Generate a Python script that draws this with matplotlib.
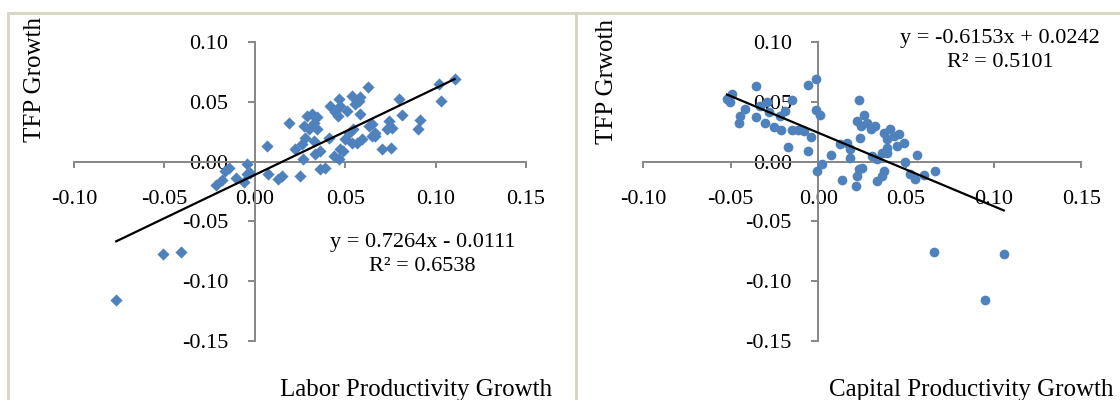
import matplotlib
matplotlib.use('Agg')
import matplotlib.pyplot as plt
from matplotlib.patches import Rectangle
import numpy as np

plt.rcParams['font.family'] = ['Liberation Serif', 'DejaVu Serif']

# ── Data ──────────────────────────────────────────────────────
# labor productivity growth vs TFP growth
labor_x = [-0.0766, -0.0509, -0.0410, -0.0213, -0.0183, -0.0163, -0.0143, -0.0104,
           -0.0058, -0.0045, -0.0041, -0.0025, 0.0068, 0.0074, 0.0128, 0.0152,
           0.0188, 0.0224, 0.0248, 0.0261, 0.0268, 0.0279, 0.0298, 0.0289,
           0.0316, 0.0270, 0.0325, 0.0344, 0.0325, 0.0335, 0.0362, 0.0362,
           0.0390, 0.0408, 0.0418, 0.0464, 0.0473, 0.0445, 0.0510, 0.0538,
           0.0556, 0.0519, 0.0500, 0.0473, 0.0464, 0.0546, 0.0538, 0.0436,
           0.0459, 0.0489, 0.1105, 0.1017, 0.1032, 0.0915, 0.0903, 0.0795,
           0.0814, 0.0626, 0.0740, 0.0759, 0.0731, 0.0704, 0.0755, 0.0666,
           0.0648, 0.0574, 0.0584, 0.0584, 0.0593, 0.0565, 0.0648, 0.0666,
           0.0630, 0.0345]
labor_y = [-0.1162, -0.0773, -0.0756, -0.0199, -0.0157, -0.0078, -0.0056, -0.0134,
           -0.0171, -0.0106, -0.0017, -0.0092, 0.0132, -0.0106, -0.0148, -0.0118,
           0.0328, 0.0103, -0.0120, 0.0145, 0.0020, 0.0202, 0.0271, 0.0383,
           0.0397, 0.0299, 0.0328, 0.0271, 0.0173, 0.0061, 0.0089, -0.0065,
           -0.0050, 0.0202, 0.0467, 0.0524, 0.0467, 0.0412, 0.0425, 0.0551,
           0.0482, 0.0244, 0.0187, 0.0103, 0.0019, 0.0271, 0.0160, 0.0047,
           0.0384, 0.0090, 0.0692, 0.0650, 0.0509, 0.0350, 0.0271, 0.0529,
           0.0389, 0.0622, 0.0341, 0.0286, 0.0271, 0.0103, 0.0112, 0.0244,
           0.0313, 0.0509, 0.0538, 0.0397, 0.0187, 0.0160, 0.0215, 0.0215,
           0.0299, 0.0375]

# capital productivity growth vs TFP growth
capital_x = [-0.0521, -0.0493, -0.0502, -0.0417, -0.0445, -0.0451, -0.0358, -0.0358,
             -0.0331, -0.0303, -0.0283, -0.0293, -0.0250, -0.0217, -0.0210, -0.0189,
             -0.0150, -0.0148, -0.0115, -0.0080, -0.0173, -0.0057, -0.0059, -0.0040,
             -0.0012, -0.0012, 0.0011, 0.0021, -0.0008, 0.0072, 0.0125, 0.0163,
             0.0182, 0.0182, 0.0135, 0.0230, 0.0220, 0.0262, 0.0243, 0.0277,
             0.0300, 0.0324, 0.0235, 0.0230, 0.0220, 0.0216, 0.0249, 0.0306,
             0.0334, 0.0372, 0.0363, 0.0334, 0.0372, 0.0391, 0.0391, 0.0391,
             0.0363, 0.0410, 0.0458, 0.0486, 0.0448, 0.0430, 0.0562, 0.0492,
             0.0524, 0.0552, 0.0600, 0.0667, 0.0662, 0.1057, 0.0951]
capital_y = [0.0529, 0.0566, 0.0496, 0.0445, 0.0383, 0.0328, 0.0630, 0.0378,
             0.0467, 0.0328, 0.0412, 0.0496, 0.0290, 0.0383, 0.0262, 0.0425,
             0.0518, 0.0265, 0.0262, 0.0255, 0.0126, 0.0641, 0.0092, 0.0205,
             0.0692, 0.0434, 0.0389, -0.0023, -0.0079, 0.0053, 0.0145, 0.0160,
             0.0103, 0.0034, -0.0155, 0.0518, 0.0341, 0.0389, 0.0299, 0.0328,
             0.0277, 0.0299, 0.0202, -0.0065, -0.0121, -0.0205, -0.0050, 0.0047,
             0.0019, -0.0079, -0.0121, -0.0163, 0.0244, 0.0187, 0.0118, 0.0076,
             0.0076, 0.0271, 0.0229, 0.0160, 0.0131, 0.0215, 0.0053, -0.0003,
             -0.0107, -0.0143, -0.0115, -0.0079, -0.0759, -0.0773, -0.1162]

# fitted trendlines (slope, intercept, R²)
labor_fit = (0.7264, -0.0111, 0.6538)
capital_fit = (-0.6153, 0.0242, 0.5101)

ticks = [-0.15, -0.10, -0.05, 0.0, 0.05, 0.10, 0.15]

BLUE = '#4f81bd'
AXIS_CLR = '#868686'
FRAME_CLR = '#d9d5c3'


def style_axes(ax):
    ax.set_xlim(-0.10, 0.15)
    ax.set_ylim(-0.15, 0.10)
    for side in ('top', 'right'):
        ax.spines[side].set_visible(False)
    ax.spines['left'].set_position(('data', 0))
    ax.spines['bottom'].set_position(('data', 0))
    for side in ('left', 'bottom'):
        ax.spines[side].set_color(AXIS_CLR)
        ax.spines[side].set_linewidth(1.4)
    ax.set_xticks(ticks[1:])
    ax.set_yticks(ticks[:-1])
    ax.xaxis.set_major_formatter(matplotlib.ticker.FormatStrFormatter('%.2f'))
    ax.yaxis.set_major_formatter(matplotlib.ticker.FormatStrFormatter('%.2f'))
    ax.tick_params(axis='x', direction='out', length=4.5, width=1.4,
                   color=AXIS_CLR, labelsize=16, pad=16)
    ax.tick_params(axis='y', direction='out', length=5, width=1.4,
                   color=AXIS_CLR, labelsize=16, pad=14)
    ax.patch.set_alpha(0)


def draw_fit(ax, xs, fit):
    slope, icept, _ = fit
    xl = np.array([min(xs), max(xs)])
    ax.plot(xl, slope * xl + icept, color='black', lw=1.6, zorder=5)


fig = plt.figure(figsize=(11.2, 4), dpi=100)
fig.patch.set_facecolor('white')

# panel frames, sharing the divider between the two charts
fig.patches.append(Rectangle((8 / 1120, -0.1), 568 / 1120, 1.1 - 13.3 / 400,
                             transform=fig.transFigure, fill=False,
                             edgecolor=FRAME_CLR, lw=2))
fig.patches.append(Rectangle((576 / 1120, -0.1), 600 / 1120, 1.1 - 13.3 / 400,
                             transform=fig.transFigure, fill=False,
                             edgecolor=FRAME_CLR, lw=2))

# ── Left: labor productivity ──
ax1 = fig.add_axes([73.9 / 1120, 59.3 / 400, 452.1 / 1120, 298.4 / 400])
style_axes(ax1)
ax1.scatter(labor_x, labor_y, marker='D', s=6.2 ** 2, color=BLUE,
            linewidths=0, zorder=4)
draw_fit(ax1, labor_x, labor_fit)
ax1.text(0.771, 0.29,
         f'y = {labor_fit[0]:.4f}x - {abs(labor_fit[1]):.4f}\nR² = {labor_fit[2]:.4f}',
         transform=ax1.transAxes, ha='center', va='center', fontsize=16,
         linespacing=1.35)
ax1.set_ylabel('TFP Growth', fontsize=18)
ax1.yaxis.set_label_coords(-0.061, 0.877)
ax1.set_xlabel('Labor Productivity Growth', fontsize=18)
ax1.xaxis.set_label_coords(0.756, -0.13)

# ── Right: capital productivity ──
ax2 = fig.add_axes([642.9 / 1120, 59.3 / 400, 438.5 / 1120, 298.4 / 400])
style_axes(ax2)
ax2.scatter(capital_x, capital_y, marker='o', s=7 ** 2, color=BLUE,
            linewidths=0, zorder=4)
draw_fit(ax2, capital_x, capital_fit)
ax2.text(0.814, 0.972,
         f'y = {capital_fit[0]:.4f}x + {capital_fit[1]:.4f}\nR² = {capital_fit[2]:.4f}',
         transform=ax2.transAxes, ha='center', va='center', fontsize=16,
         linespacing=1.35)
ax2.set_ylabel('TFP Grwoth', fontsize=18)
ax2.yaxis.set_label_coords(-0.057, 0.870)
ax2.set_xlabel('Capital Productivity Growth', fontsize=18)
ax2.xaxis.set_label_coords(0.748, -0.13)

fig.savefig('out.png', dpi=100, facecolor='white')
